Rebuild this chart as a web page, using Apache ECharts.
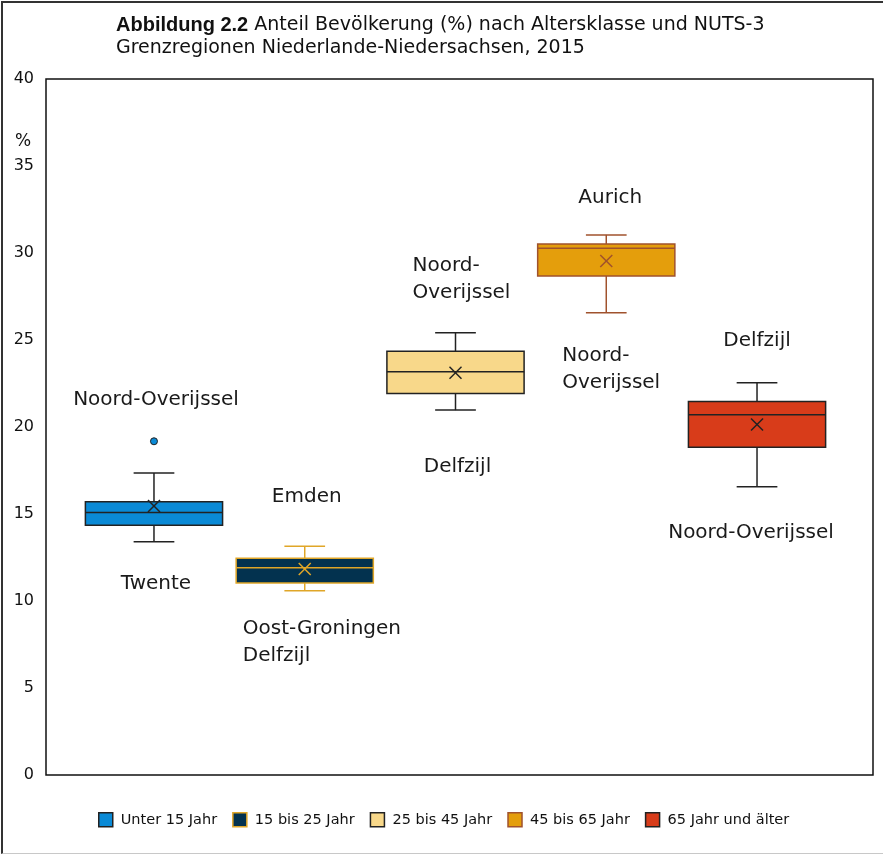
<!DOCTYPE html>
<html>
<head>
<meta charset="utf-8">
<script src="https://cdn.jsdelivr.net/npm/echarts@6/dist/echarts.min.js"></script>
<style>
  html, body { margin: 0; padding: 0; background: #fff; }
  #wrap { position: relative; width: 883px; height: 856px; }
  #chart { width: 883px; height: 856px; }
  #frame {
    position: absolute; left: 1px; top: 1px; width: 882px; height: 853px;
    border-left: 2px solid #333; border-top: 2px solid #333; border-bottom: 1px solid #c8c8c8;
    pointer-events: none; box-sizing: border-box;
  }
</style>
</head>
<body>
<div id="wrap">
  <div id="chart"></div>
  <div id="frame"></div>
</div>
<script>
var categories = ['Unter 15 Jahr', '15 bis 25 Jahr', '25 bis 45 Jahr', '45 bis 65 Jahr', '65 Jahr und älter'];
var mins    = [13.41, 10.59, 20.97, 26.57, 16.56];
var q1s     = [14.35, 11.03, 21.93, 28.68, 18.84];
var medians = [15.08, 11.91, 23.18, 30.27, 20.70];
var q3s     = [15.71, 12.45, 24.36, 30.52, 21.47];
var maxs    = [17.36, 13.14, 25.42, 31.04, 22.54];
var means   = [15.46, 11.84, 23.12, 29.54, 20.14];
var outliers = [[0, 19.18]];

// region labels for highest / lowest values
var noteTexts  = ['Noord-Overijssel', 'Twente', 'Emden', 'Oost-Groningen\nDelfzijl', 'Noord-\nOverijssel',
                  'Delfzijl', 'Aurich', 'Noord-\nOverijssel', 'Delfzijl', 'Noord-Overijssel'];
var noteCats   = [0, 0, 1, 1, 2, 2, 3, 3, 4, 4];
var noteValues = [21.58, 10.99, 16.0, 7.6, 28.49, 17.73, 33.15, 23.31, 24.98, 13.93];
var yTicks = [0, 5, 10, 15, 20, 25, 30, 35, 40];

// styles
var fills   = ['#0a8ad6', '#03324f', '#f8d88a', '#e49e0c', '#d83c1a'];
var strokes = ['#222222', '#e0a628', '#222222', '#a0522d', '#222222'];
var noteAlign = ['center', 'center', 'center', 'left', 'left', 'center', 'center', 'left', 'center', 'center'];
var noteShift = [2, 2, 2, -62, -43, 2, 4, -44, 0, -6];
var font = 'DejaVu Sans';
var ink = '#111';

var chart = echarts.init(document.getElementById('chart'));

function renderBox(params, api) {
  var i = api.value(0);
  var pMin = api.coord([i, api.value(1)]);
  var pQ1 = api.coord([i, api.value(2)]);
  var pMed = api.coord([i, api.value(3)]);
  var pQ3 = api.coord([i, api.value(4)]);
  var pMax = api.coord([i, api.value(5)]);
  var pMean = api.coord([i, api.value(6)]);
  var band = api.size([1, 0])[0];
  var hb = band * 0.455;
  var hc = band * 0.135;
  var x = pMed[0];
  var st = api.style();
  var ls = { stroke: st.stroke, lineWidth: 1.5, fill: null };
  var m = 6;
  return {
    type: 'group',
    children: [
      { type: 'line', shape: { x1: x, y1: pMin[1], x2: x, y2: pQ1[1] }, style: ls },
      { type: 'line', shape: { x1: x, y1: pQ3[1], x2: x, y2: pMax[1] }, style: ls },
      { type: 'line', shape: { x1: x - hc, y1: pMin[1], x2: x + hc, y2: pMin[1] }, style: ls },
      { type: 'line', shape: { x1: x - hc, y1: pMax[1], x2: x + hc, y2: pMax[1] }, style: ls },
      { type: 'rect', shape: { x: x - hb, y: pQ3[1], width: hb * 2, height: pQ1[1] - pQ3[1] },
        style: { fill: st.fill, stroke: st.stroke, lineWidth: 1.5 } },
      { type: 'line', shape: { x1: x - hb, y1: pMed[1], x2: x + hb, y2: pMed[1] }, style: ls },
      { type: 'line', shape: { x1: x - m, y1: pMean[1] - m, x2: x + m, y2: pMean[1] + m }, style: ls },
      { type: 'line', shape: { x1: x - m, y1: pMean[1] + m, x2: x + m, y2: pMean[1] - m }, style: ls }
    ]
  };
}

var series = categories.map(function(name, i) {
  return {
    name: name,
    type: 'custom',
    xAxisIndex: 1,
    yAxisIndex: 1,
    renderItem: renderBox,
    itemStyle: { color: fills[i], borderColor: strokes[i], borderWidth: 1.5 },
    encode: { x: 0, y: [1, 2, 3, 4, 5] },
    data: [[i, mins[i], q1s[i], medians[i], q3s[i], maxs[i], means[i]]],
    z: 3
  };
});

series.push({
  name: 'Ausreißer',
  type: 'scatter',
  xAxisIndex: 1,
  yAxisIndex: 1,
  symbolSize: 7,
  itemStyle: { color: fills[0], borderColor: '#222', borderWidth: 1, opacity: 1 },
  data: outliers,
  z: 4
});

series.push({
  name: 'Regionen',
  type: 'scatter',
  xAxisIndex: 1,
  yAxisIndex: 1,
  symbolSize: 1,
  itemStyle: { color: 'rgba(0,0,0,0)', opacity: 1 },
  silent: true,
  data: noteTexts.map(function(t, k) {
    return {
      value: [noteCats[k], noteValues[k]],
      label: {
        show: true,
        position: 'inside',
        formatter: t,
        align: noteAlign[k],
        offset: [noteShift[k], 0],
        fontFamily: font,
        fontSize: 20,
        lineHeight: 27,
        color: '#1a1a1a'
      }
    };
  }),
  z: 5
});

chart.setOption({
  animation: false,
  backgroundColor: '#fff',
  title: [{
    left: 111,
    top: 9,
    text: '{b|Abbildung 2.2} Anteil Bevölkerung (%) nach Altersklasse und NUTS-3\nGrenzregionen Niederlande-Niedersachsen, 2015',
    textStyle: {
      fontFamily: font, fontSize: 19, fontWeight: 'normal', color: ink, lineHeight: 23,
      rich: { b: { fontFamily: 'Liberation Sans', fontSize: 20, fontWeight: 'bold', color: ink, lineHeight: 23 } }
    }
  }, {
    left: 10,
    top: 128,
    text: '%',
    textStyle: { fontFamily: font, fontSize: 17, fontWeight: 'normal', color: ink }
  }],
  legend: {
    data: categories,
    left: 93,
    top: 807,
    icon: 'rect',
    itemWidth: 14,
    itemHeight: 14,
    itemGap: 15,
    itemStyle: { borderWidth: 1.5 },
    textStyle: { fontFamily: font, fontSize: 14.5, color: ink, padding: [0, 0, 0, 3] }
  },
  grid: [
    { left: 46, right: 10, top: 79, bottom: 81, show: true, borderColor: '#111', borderWidth: 1.5, backgroundColor: '#fff' },
    { left: 78.6, right: 50.6, top: 79, bottom: 81 }
  ],
  xAxis: [
    { type: 'category', gridIndex: 0, data: categories, show: false },
    { type: 'category', gridIndex: 1, data: categories, show: false, boundaryGap: true }
  ],
  yAxis: [
    {
      type: 'value', gridIndex: 0, min: 0, max: 40, interval: 5,
      axisLine: { show: false }, axisTick: { show: false }, splitLine: { show: false },
      axisLabel: {
        margin: 12, fontFamily: font, fontSize: 16, color: ink, padding: [6, 0, 0, 0],
        formatter: function(v) { return yTicks.indexOf(v) >= 0 ? String(v) : ''; }
      }
    },
    { type: 'value', gridIndex: 1, min: 0, max: 40, show: false }
  ],
  series: series
});
</script>
</body>
</html>
